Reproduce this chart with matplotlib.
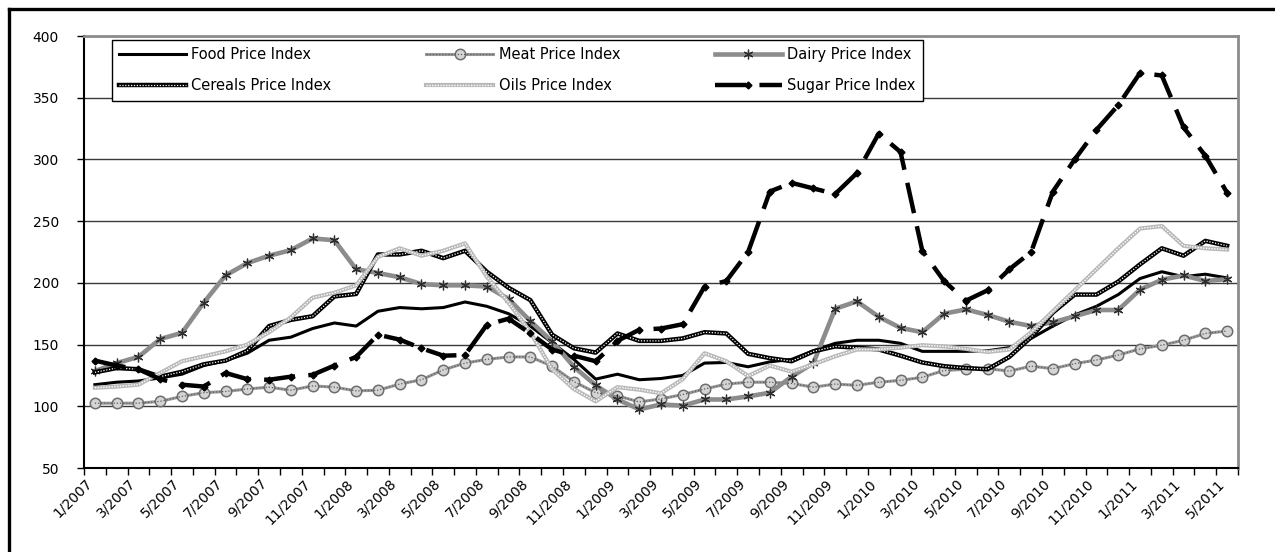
import matplotlib
matplotlib.use("Agg")
import matplotlib.pyplot as plt
from matplotlib.lines import Line2D
from matplotlib.legend_handler import HandlerTuple
import numpy as np

# ---------------- data ----------------
months = [f"{m}/{y}" for y in range(2007, 2012) for m in range(1, 13)][:53]

food = [117.5, 119.5, 120.5, 123, 126, 133, 137, 143, 153.5, 156, 163, 167.5, 165,
        177, 180, 179, 180, 184.5, 181, 175, 165, 151.5, 138, 122, 126, 121.5, 122.5,
        125, 135, 135.5, 132, 136, 138, 145, 151, 153.5, 153.5, 151, 144.5, 144.5,
        144.5, 145, 147.5, 155, 165, 174, 181, 190.5, 203.5, 209, 205, 207, 204]
meat = [102.5, 102.5, 102.5, 104, 108, 111, 112, 114, 115.5, 113, 116.5, 115.5, 112.5,
        113, 118, 121.5, 129.5, 135, 138, 140, 140, 132.5, 120, 111, 108.5, 103.5, 106,
        109.5, 114, 118, 119.5, 119.5, 118.5, 115.5, 118, 117, 119.5, 121, 123.5, 129,
        130, 130.5, 128.5, 132.5, 130.5, 134.5, 137.5, 141.5, 146.5, 149.5, 153.5, 159, 161]
dairy = [128.5, 135, 140, 154.5, 159.5, 184, 206, 216, 222, 226.5, 236, 234.5, 211,
         208, 204.5, 199, 198, 198, 197, 187, 169, 152.5, 132, 117, 105.5, 97.5, 101.5,
         100.5, 105.5, 105.5, 108, 111, 124, 135, 179, 185, 172.5, 163.5, 160, 175,
         178.5, 174, 168.5, 165, 168, 173, 178, 178, 194.5, 202.5, 206, 201.5, 203]
cereals = [127.5, 131, 130, 124, 128, 134, 137, 145, 165, 170, 173, 189, 191,
           223, 223, 226, 220, 226, 209, 196, 186, 158, 147, 143.5, 159, 153, 153,
           155, 160, 159, 142.5, 139, 136.5, 144.5, 148.5, 147.5, 146, 141, 135.5, 132.5,
           131, 130, 140, 156, 176, 190.5, 190.5, 201, 215, 228, 222, 234, 230]
oils = [115, 116, 117.5, 127, 136.5, 140.5, 144.5, 150, 160, 172, 188, 192, 198,
        221, 228, 222, 226, 232, 205, 184, 160, 130, 114, 104, 115.5, 113.5, 110.5,
        122, 143, 136.5, 124.5, 133, 128, 134, 140.5, 146, 146, 147.5, 149.5, 148.5,
        146.5, 144, 146, 160, 177, 194, 211, 228, 244, 246, 230, 228, 227]
sugar = [137, 133, 130, 122, 117.5, 116, 127, 122, 121.5, 124, 125.5, 133, 140,
         158, 154, 147, 141, 141.5, 166, 171, 159, 146, 141, 136.5, 153, 162, 163,
         166.5, 197, 201.5, 225, 274, 281, 276.5, 272, 289, 321, 306, 226, 201.5,
         185.5, 194, 211, 225, 274, 300, 324, 344, 370, 368, 326, 303, 273]

series_names = ["Food Price Index", "Meat Price Index", "Dairy Price Index",
                "Cereals Price Index", "Oils Price Index", "Sugar Price Index"]
y_ticks = [50, 100, 150, 200, 250, 300, 350, 400]

# ---------------- figure ----------------
W, H = 1275, 552
fig = plt.figure(figsize=(W / 100, H / 100), dpi=100)
ax = fig.add_axes([84 / W, 1 - 468 / H, (1238 - 84) / W, (468 - 36) / H])

x = np.arange(len(months))

# Food
l_food, = ax.plot(x, food, color="black", lw=2.2, solid_joinstyle="round", zorder=3)
# Meat
l_meat, = ax.plot(x, meat, color="#9a9a9a", lw=2.2, marker="o", ms=7.5,
                  mfc="#d4d4d4", mec="#6e6e6e", mew=1.1, zorder=3)
l_meat2, = ax.plot(x, meat, color="#5c5c5c", lw=0.9, ls=(0, (1, 1.5)), zorder=3.1)
# Dairy
l_dairy, = ax.plot(x, dairy, color="#8c8c8c", lw=3.3, marker=(6, 2, 0), ms=7,
                   mec="#2e2e2e", mew=0.9, zorder=3.2)
# Cereals
l_cer, = ax.plot(x, cereals, color="black", lw=3.2, zorder=3.3)
l_cer2, = ax.plot(x, cereals, color="white", lw=0.9, ls=(0, (1, 1.3)), zorder=3.4)
# Oils
l_oil, = ax.plot(x, oils, color="#b8b8b8", lw=3.0, zorder=3.5)
l_oil2, = ax.plot(x, oils, color="white", lw=1.0, ls=(0, (1, 1.0)), zorder=3.6)
# Sugar
l_sug, = ax.plot(x, sugar, color="black", lw=3.2, ls=(0, (7, 3)), marker="D", ms=3.5,
                 zorder=4)

# axes limits / ticks
ax.set_xlim(-0.5, len(months) - 0.5)
ax.set_ylim(50, 400)
ax.set_yticks(y_ticks)
ax.set_yticklabels([str(v) for v in y_ticks])
ax.set_xticks(x[::2])
ax.set_xticklabels(months[::2], rotation=45, ha="right", va="top")
ax.set_xticks(np.arange(len(months) + 1) - 0.5, minor=True)
ax.tick_params(axis="x", which="major", length=0, pad=6, labelsize=10)
ax.tick_params(axis="x", which="minor", length=5, width=1, direction="out", color="black")
ax.tick_params(axis="y", which="major", length=5, width=1, direction="out",
               pad=13, labelsize=10)

ax.set_axisbelow(True)
ax.yaxis.grid(True, color="#3a3a3a", lw=1.0)

for s in ("left", "bottom"):
    ax.spines[s].set_color("black")
    ax.spines[s].set_linewidth(1.5)
for s in ("top", "right"):
    ax.spines[s].set_color("#8c8c8c")
    ax.spines[s].set_linewidth(2)

# outer frame (left and top visible)
fig.add_artist(Line2D([9 / W, 9 / W], [0, 1 - 9 / H], color="black", lw=2.4,
                      transform=fig.transFigure))
fig.add_artist(Line2D([9 / W, 1], [1 - 9 / H, 1 - 9 / H], color="black", lw=2.4,
                      transform=fig.transFigure))

# legend
handles = [l_food, (l_cer, l_cer2), (l_meat, l_meat2), (l_oil, l_oil2), l_dairy, l_sug]
labels = [series_names[0], series_names[3], series_names[1], series_names[4],
          series_names[2], series_names[5]]
leg = ax.legend(handles, labels, ncol=3, loc="upper left",
                bbox_to_anchor=(112 / W, 1 - 40 / H), bbox_transform=fig.transFigure,
                borderaxespad=0, fontsize=10.5, frameon=True, fancybox=False,
                edgecolor="black", framealpha=1, handlelength=4.6, handletextpad=0.35,
                columnspacing=6.5, labelspacing=1.1, borderpad=0.5,
                handler_map={tuple: HandlerTuple(ndivide=1)})
leg.get_frame().set_linewidth(1.0)
leg.set_zorder(10)

fig.savefig("out.png", dpi=100)
